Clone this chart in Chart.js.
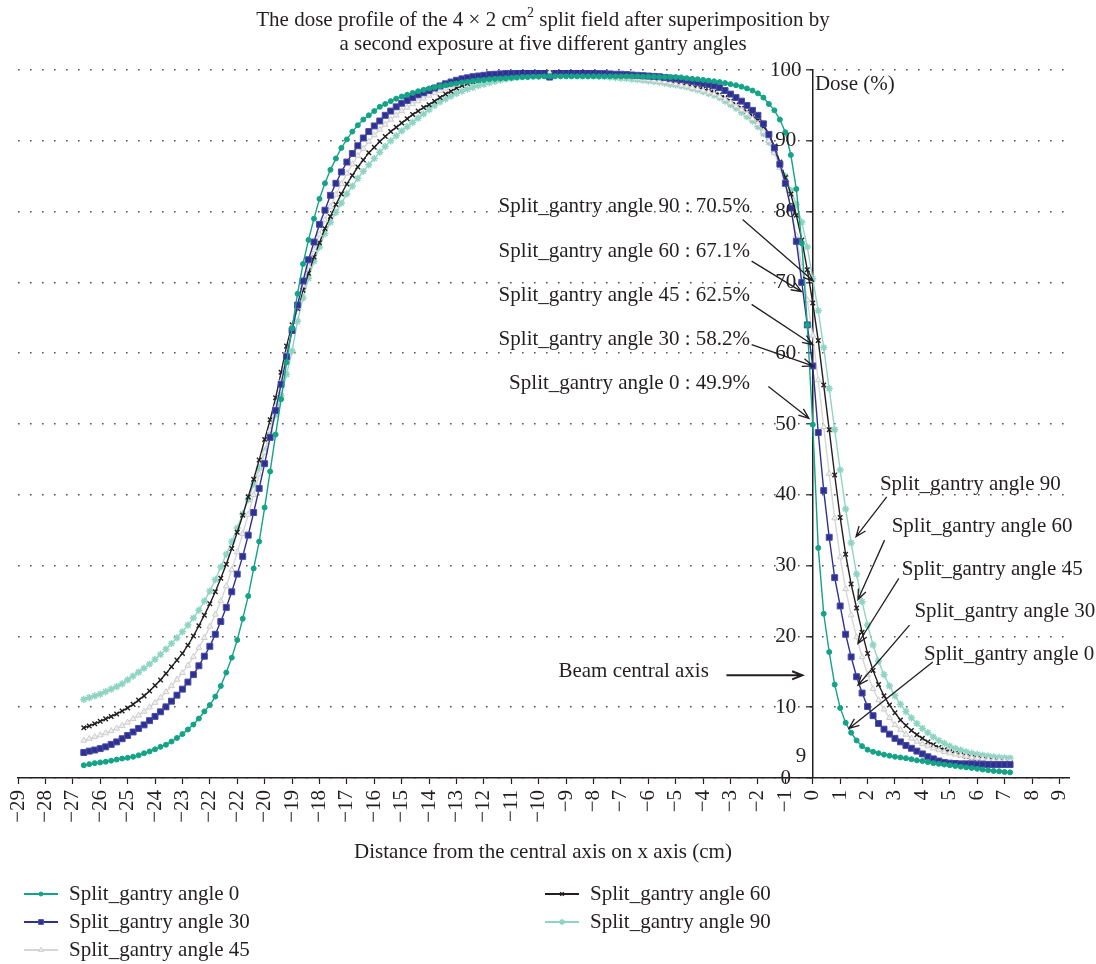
<!DOCTYPE html>
<html>
<head>
<meta charset="utf-8">
<script src="https://cdn.jsdelivr.net/npm/chart.js@4.4.1/dist/chart.umd.min.js"></script>
<style>
html, body { margin: 0; padding: 0; background: #fff; }
#wrap { position: relative; width: 1096px; height: 964px; }
</style>
</head>
<body>
<div id="wrap"><canvas id="doseChart"></canvas></div>
<script>
var serif = "'Liberation Serif', 'DejaVu Serif', serif";
var ink = '#231f20';

// distance from the central axis (cm), one sample every 0.2 cm
var distance = [
  -26.6,-26.4,-26.2,-26,-25.8,-25.6,-25.4,-25.2,-25,-24.8,
  -24.6,-24.4,-24.2,-24,-23.8,-23.6,-23.4,-23.2,-23,-22.8,
  -22.6,-22.4,-22.2,-22,-21.8,-21.6,-21.4,-21.2,-21,-20.8,
  -20.6,-20.4,-20.2,-20,-19.8,-19.6,-19.4,-19.2,-19,-18.8,
  -18.6,-18.4,-18.2,-18,-17.8,-17.6,-17.4,-17.2,-17,-16.8,
  -16.6,-16.4,-16.2,-16,-15.8,-15.6,-15.4,-15.2,-15,-14.8,
  -14.6,-14.4,-14.2,-14,-13.8,-13.6,-13.4,-13.2,-13,-12.8,
  -12.6,-12.4,-12.2,-12,-11.8,-11.6,-11.4,-11.2,-11,-10.8,
  -10.6,-10.4,-10.2,-10,-9.8,-9.6,-9.4,-9.2,-9,-8.8,
  -8.6,-8.4,-8.2,-8,-7.8,-7.6,-7.4,-7.2,-7,-6.8,
  -6.6,-6.4,-6.2,-6,-5.8,-5.6,-5.4,-5.2,-5,-4.8,
  -4.6,-4.4,-4.2,-4,-3.8,-3.6,-3.4,-3.2,-3,-2.8,
  -2.6,-2.4,-2.2,-2,-1.8,-1.6,-1.4,-1.2,-1,-0.8,
  -0.6,-0.4,-0.2,0,0.2,0.4,0.6,0.8,1,1.2,
  1.4,1.6,1.8,2,2.2,2.4,2.6,2.8,3,3.2,
  3.4,3.6,3.8,4,4.2,4.4,4.6,4.8,5,5.2,
  5.4,5.6,5.8,6,6.2,6.4,6.6,6.8,7,7.2
];

var dose0 = [
  1.8,1.95,2.1,2.2,2.3,2.45,2.6,2.75,2.85,3.0,
  3.2,3.5,3.75,4.05,4.4,4.7,5.15,5.65,6.2,6.85,
  7.55,8.4,9.4,10.3,11.5,13.0,14.9,17.0,19.5,22.5,
  25.7,29.6,33.4,38.2,43.3,48.5,53.5,58.7,63.5,68.4,
  72.6,76.0,79.0,81.8,84.0,85.9,87.5,89.0,90.2,91.3,
  92.2,93.0,93.6,94.2,94.8,95.2,95.6,95.95,96.25,96.5,
  96.75,97.0,97.2,97.4,97.55,97.7,97.85,98.0,98.1,98.25,
  98.35,98.45,98.55,98.6,98.7,98.75,98.8,98.85,98.9,98.95,
  99.0,99.0,99.05,99.05,99.1,99.1,99.1,99.1,99.1,99.1,
  99.1,99.1,99.1,99.1,99.1,99.1,99.1,99.1,99.1,99.1,
  99.1,99.1,99.05,99.05,99.05,99.0,99.0,99.0,99.0,98.95,
  98.85,98.75,98.7,98.6,98.5,98.4,98.3,98.15,98.0,97.85,
  97.65,97.4,97.1,96.7,96.1,95.2,94.3,93.0,91.2,88.0,
  83.2,75.5,64.0,49.9,32.5,23.2,17.8,13.2,9.9,7.8,
  6.4,5.3,4.5,4.0,3.7,3.5,3.3,3.15,3.0,2.9,
  2.8,2.65,2.5,2.4,2.25,2.1,2.0,1.9,1.8,1.7,
  1.6,1.5,1.4,1.3,1.2,1.1,1.0,0.95,0.85,0.8
];

var dose30 = [
  3.6,3.8,3.95,4.15,4.4,4.75,5.1,5.55,6.0,6.5,
  7.0,7.5,8.1,8.7,9.35,10.05,10.85,11.7,12.55,13.55,
  14.6,15.85,17.2,18.6,20.3,22.1,24.1,26.3,28.8,31.3,
  34.3,37.5,40.9,44.4,48.1,51.9,55.6,59.5,63.2,66.8,
  70.2,73.2,75.7,78.2,80.2,82.3,84.0,85.6,87.0,88.2,
  89.3,90.4,91.3,92.1,92.8,93.6,94.2,94.8,95.3,95.7,
  96.1,96.5,96.8,97.1,97.45,97.75,98.05,98.3,98.55,98.75,
  98.9,99.05,99.15,99.25,99.35,99.4,99.45,99.5,99.55,99.6,
  99.65,99.7,99.7,99.75,99.75,99.0,99.8,99.8,99.75,99.7,
  99.7,99.65,99.6,99.6,99.55,99.5,99.45,99.4,99.4,99.35,
  99.3,99.25,99.2,99.15,99.1,99.05,98.95,98.85,98.75,98.65,
  98.55,98.4,98.25,98.1,97.95,97.75,97.5,97.1,96.6,96.1,
  95.6,95.0,94.3,93.6,92.4,90.9,89.0,86.7,84.0,80.5,
  75.8,70.0,64.0,58.2,48.8,40.6,34.0,28.3,24.3,20.3,
  17.1,14.3,12.0,10.1,8.8,7.7,6.9,6.2,5.6,5.1,
  4.6,4.2,3.8,3.4,3.0,2.7,2.4,2.2,2.1,2.05,
  2.0,2.0,2.0,1.95,1.95,1.9,1.9,1.9,1.9,1.9
];

var dose45 = [
  5.3,5.55,5.8,6.05,6.35,6.65,7.0,7.4,7.85,8.35,
  8.85,9.4,10.0,10.65,11.35,12.15,13.0,13.9,14.85,15.9,
  17.1,18.4,19.8,21.4,23.1,25.0,27.1,29.4,31.9,34.5,
  37.2,40.0,42.9,46.0,49.1,52.4,56.0,59.8,63.6,66.6,
  69.6,72.3,74.6,76.8,78.8,80.7,82.4,83.9,85.4,86.7,
  87.9,88.9,89.9,90.8,91.6,92.3,93.0,93.6,94.2,94.7,
  95.2,95.6,96.0,96.4,96.75,97.1,97.4,97.7,97.95,98.2,
  98.4,98.6,98.75,98.9,99.0,99.1,99.2,99.3,99.35,99.4,
  99.45,99.5,99.55,99.6,99.6,99.6,99.6,99.55,99.5,99.45,
  99.4,99.35,99.3,99.25,99.2,99.15,99.1,99.05,99.0,98.95,
  98.9,98.8,98.7,98.6,98.5,98.4,98.3,98.15,98.0,97.85,
  97.7,97.5,97.3,97.1,96.85,96.6,96.25,95.85,95.4,94.9,
  94.4,93.8,93.1,92.4,91.3,90.0,88.3,86.2,83.8,80.6,
  76.6,72.2,67.5,62.5,56.2,49.6,43.0,36.7,31.2,26.7,
  23.0,19.9,17.1,14.6,12.6,11.0,9.7,8.5,7.5,6.8,
  6.15,5.6,5.15,4.8,4.5,4.2,3.95,3.7,3.5,3.35,
  3.2,3.05,2.9,2.8,2.7,2.6,2.5,2.45,2.4,2.35
];

var dose60 = [
  7.1,7.35,7.65,8.0,8.35,8.7,9.05,9.45,9.9,10.4,
  11.0,11.6,12.3,13.05,13.85,14.75,15.7,16.65,17.6,18.75,
  20.05,21.5,23.0,24.6,26.3,28.2,30.2,32.4,34.7,37.1,
  39.7,42.2,44.9,47.8,50.6,53.7,57.3,61.0,64.0,66.3,
  68.9,71.3,73.6,75.6,77.6,79.3,81.0,82.5,83.9,85.1,
  86.3,87.3,88.3,89.1,89.9,90.6,91.3,91.9,92.5,93.1,
  93.7,94.2,94.7,95.1,95.6,96.1,96.6,97.0,97.45,97.8,
  98.1,98.35,98.55,98.75,98.9,99.05,99.15,99.25,99.35,99.45,
  99.5,99.55,99.6,99.65,99.7,99.75,99.75,99.75,99.7,99.65,
  99.6,99.5,99.45,99.4,99.35,99.3,99.25,99.2,99.1,99.05,
  99.0,98.9,98.8,98.7,98.6,98.5,98.4,98.25,98.1,98.0,
  97.85,97.7,97.5,97.3,97.1,96.85,96.5,96.1,95.6,95.1,
  94.6,94.1,93.5,92.9,92.0,91.0,89.2,87.0,84.8,82.5,
  79.5,76.0,71.8,67.1,61.8,55.5,49.2,42.8,36.8,31.6,
  27.4,24.0,20.6,17.6,15.2,13.2,11.6,10.3,9.2,8.2,
  7.4,6.7,6.1,5.6,5.1,4.7,4.3,4.0,3.7,3.45,
  3.25,3.05,2.9,2.75,2.6,2.5,2.4,2.3,2.2,2.15
];

var dose90 = [
  11.1,11.35,11.6,11.85,12.2,12.55,12.9,13.3,13.85,14.4,
  14.95,15.5,16.1,16.75,17.45,18.2,19.0,19.8,20.65,21.6,
  22.6,23.7,25.0,26.4,28.0,29.8,31.6,33.4,35.3,37.3,
  39.3,41.5,43.8,46.2,48.7,51.3,54.0,57.0,60.3,64.5,
  67.8,70.6,73.0,75.0,76.9,78.5,79.9,81.2,82.5,83.6,
  84.7,85.7,86.6,87.5,88.4,89.2,90.0,90.7,91.4,92.0,
  92.6,93.2,93.8,94.4,95.0,95.5,95.9,96.3,96.7,97.0,
  97.3,97.55,97.8,98.0,98.2,98.4,98.55,98.7,98.85,98.95,
  99.05,99.15,99.2,99.25,99.3,99.3,99.3,99.3,99.3,99.25,
  99.25,99.2,99.2,99.15,99.1,99.05,99.0,98.9,98.85,98.8,
  98.7,98.65,98.55,98.45,98.4,98.3,98.15,98.0,97.9,97.75,
  97.6,97.4,97.2,96.95,96.7,96.45,96.1,95.6,95.1,94.6,
  94.0,93.4,92.8,92.0,91.0,89.8,88.4,86.8,85.0,83.0,
  81.0,78.5,75.0,70.5,66.0,60.8,55.0,49.2,43.5,38.0,
  33.2,28.8,24.9,21.6,18.8,16.5,14.6,13.0,11.6,10.4,
  9.4,8.5,7.7,7.0,6.4,5.8,5.3,4.9,4.5,4.2,
  3.95,3.7,3.5,3.35,3.2,3.1,3.0,2.9,2.85,2.8
];

var seriesLabels = ['Split_gantry angle 0', 'Split_gantry angle 30', 'Split_gantry angle 45',
                    'Split_gantry angle 60', 'Split_gantry angle 90'];

var xTickValues = [-29,-28,-27,-26,-25,-24,-23,-22,-21,-20,-19,-18,-17,-16,-15,-14,-13,-12,-11,-10,
                   -9,-8,-7,-6,-5,-4,-3,-2,-1,0,1,2,3,4,5,6,7,8,9];
// the printed axis repeats "-22" where -21 should be; kept as in the figure
var xTickLabels = ['−29','−28','−27','−26','−25','−24','−23','−22','−22','−20','−19','−18','−17','−16',
                   '−15','−14','−13','−12','−11','−10','−9','−8','−7','−6','−5','−4','−3','−2','−1',
                   '0','1','2','3','4','5','6','7','8','9'];
var yTickValues = [0,10,20,30,40,50,60,70,80,90,100];

var titleLine1 = ['The dose profile of the 4 × 2 cm', '2', ' split field after superimposition by'];
var titleLine2 = 'a second exposure at five different gantry angles';
var xTitle = 'Distance from the central axis on x axis (cm)';

// callouts, anchored in data units
var leftNotes = [
  {text: 'Split_gantry angle 90 : 70.5%', at: [-2.29, 80.7], from: [-2.56, 78.9], to: [0.02, 70.2]},
  {text: 'Split_gantry angle 60 : 67.1%', at: [-2.29, 74.3], from: [-2.23, 73.0], to: [-0.41, 68.7]},
  {text: 'Split_gantry angle 45 : 62.5%', at: [-2.29, 68.2], from: [-2.23, 66.9], to: [0.0, 61.2]},
  {text: 'Split_gantry angle 30 : 58.2%', at: [-2.29, 61.9], from: [-2.23, 61.2], to: [0.0, 58.2]},
  {text: 'Split_gantry angle 0 : 49.9%',  at: [-2.29, 55.75], from: [-1.62, 55.3], to: [-0.14, 50.8]}
];
var rightNotes = [
  {text: 'Split_gantry angle 90', at: [2.45, 41.4], from: [2.70, 39.7], to: [1.58, 34.1]},
  {text: 'Split_gantry angle 60', at: [2.88, 35.5], from: [2.62, 33.6], to: [1.65, 25.2]},
  {text: 'Split_gantry angle 45', at: [3.25, 29.5], from: [3.14, 28.2], to: [1.65, 19.0]},
  {text: 'Split_gantry angle 30', at: [3.71, 23.5], from: [3.53, 21.6], to: [1.65, 13.1]},
  {text: 'Split_gantry angle 0',  at: [4.06, 17.4], from: [4.38, 16.4], to: [1.32, 7.0]},
  {text: 'Beam central axis',     at: [-9.28, 15.0], from: [-3.15, 14.5], to: [-0.38, 14.5], heavy: true}
];

function toPoints(ys) {
  return distance.map(function (x, i) { return {x: x, y: ys[i]}; });
}

function arrow(ctx, x1, y1, x2, y2, w) {
  var a = Math.atan2(y2 - y1, x2 - x1), h = 11;
  ctx.lineWidth = w;
  ctx.beginPath();
  ctx.moveTo(x1, y1);
  ctx.lineTo(x2, y2);
  ctx.moveTo(x2 - h * Math.cos(a - 0.38), y2 - h * Math.sin(a - 0.38));
  ctx.lineTo(x2, y2);
  ctx.lineTo(x2 - h * Math.cos(a + 0.38), y2 - h * Math.sin(a + 0.38));
  ctx.stroke();
}

var notesPlugin = {
  id: 'notes',
  afterDraw: function (chart) {
    var ctx = chart.ctx;
    var sx = chart.scales.x, sy = chart.scales.y;
    var px = function (v) { return sx.getPixelForValue(v); };
    var py = function (v) { return sy.getPixelForValue(v); };
    var cx = chart.width / 2 - 5;

    ctx.save();
    ctx.fillStyle = ink;
    ctx.strokeStyle = ink;
    ctx.textBaseline = 'middle';

    // y tick labels, centred left of the axis
    ctx.font = '21px ' + serif;
    ctx.textAlign = 'center';
    yTickValues.forEach(function (v) { ctx.fillText(String(v), px(0) - 27, py(v)); });
    ctx.fillText('9', px(-0.43), py(2.97));

    ctx.textAlign = 'left';
    ctx.fillText('Dose (%)', px(0.08), py(97.9));

    // title with superscript
    ctx.font = '21px ' + serif;
    var w1 = ctx.measureText(titleLine1[0]).width;
    var w3 = ctx.measureText(titleLine1[2]).width;
    ctx.font = '14px ' + serif;
    var w2 = ctx.measureText(titleLine1[1]).width;
    var left = cx - (w1 + w2 + w3) / 2;
    ctx.font = '21px ' + serif;
    ctx.fillText(titleLine1[0], left, 20);
    ctx.fillText(titleLine1[2], left + w1 + w2, 20);
    ctx.font = '14px ' + serif;
    ctx.fillText(titleLine1[1], left + w1, 13);
    ctx.font = '21px ' + serif;
    ctx.textAlign = 'center';
    ctx.fillText(titleLine2, cx, 44);

    ctx.font = '21px ' + serif;
    ctx.fillText(xTitle, cx, 852);

    // callouts
    ctx.textAlign = 'right';
    leftNotes.forEach(function (n) {
      ctx.fillText(n.text, px(n.at[0]), py(n.at[1]));
      arrow(ctx, px(n.from[0]), py(n.from[1]), px(n.to[0]), py(n.to[1]), 1.3);
    });
    ctx.textAlign = 'left';
    rightNotes.forEach(function (n) {
      ctx.fillText(n.text, px(n.at[0]), py(n.at[1]));
      arrow(ctx, px(n.from[0]), py(n.from[1]), px(n.to[0]), py(n.to[1]), n.heavy ? 2 : 1.3);
    });

    // legend: two columns, filled top to bottom
    var slots = [[24, 894], [24, 922], [24, 950], [545, 894], [545, 922]];
    chart.data.datasets.forEach(function (ds, i) {
      var s = slots[i];
      ctx.strokeStyle = ds.borderColor;
      ctx.lineWidth = 2;
      ctx.beginPath();
      ctx.moveTo(s[0], s[1]);
      ctx.lineTo(s[0] + 34, s[1]);
      ctx.stroke();
      ctx.fillStyle = ds.pointBackgroundColor;
      ctx.strokeStyle = ds.pointBorderColor;
      ctx.lineWidth = ds.pointBorderWidth;
      Chart.helpers.drawPoint(ctx, {pointStyle: ds.pointStyle, radius: ds.pointRadius * 0.8,
        rotation: 0, borderWidth: ds.pointBorderWidth}, s[0] + 17, s[1]);
      ctx.fillStyle = ink;
      ctx.font = '21px ' + serif;
      ctx.fillText(ds.label, s[0] + 45, s[1]);
    });
    ctx.restore();
  }
};

var doseChart = new Chart(document.getElementById('doseChart'), {
  type: 'line',
  data: {
    datasets: [{
      label: seriesLabels[0],
      data: toPoints(dose0),
      borderColor: '#13a386',
      borderWidth: 1.4,
      pointStyle: 'circle',
      pointRadius: 2.5,
      pointBackgroundColor: '#13a386',
      pointBorderColor: '#13a386',
      pointBorderWidth: 1
    }, {
      label: seriesLabels[1],
      data: toPoints(dose30),
      borderColor: '#2e3192',
      borderWidth: 1.4,
      pointStyle: 'rect',
      pointRadius: 4.2,
      pointBackgroundColor: '#2e3192',
      pointBorderColor: '#4a4da6',
      pointBorderWidth: 1
    }, {
      label: seriesLabels[2],
      data: toPoints(dose45),
      borderColor: '#d6d6d6',
      borderWidth: 1.4,
      pointStyle: 'triangle',
      pointRadius: 3.4,
      pointBackgroundColor: '#f0f0f0',
      pointBorderColor: '#cdcdcd',
      pointBorderWidth: 1
    }, {
      label: seriesLabels[3],
      data: toPoints(dose60),
      borderColor: '#231f20',
      borderWidth: 1.4,
      pointStyle: 'crossRot',
      pointRadius: 3.2,
      pointBackgroundColor: '#231f20',
      pointBorderColor: '#231f20',
      pointBorderWidth: 1.4
    }, {
      label: seriesLabels[4],
      data: toPoints(dose90),
      borderColor: '#8ed4c3',
      borderWidth: 1.4,
      pointStyle: 'star',
      pointRadius: 3.6,
      pointBackgroundColor: '#8ed4c3',
      pointBorderColor: '#8ed4c3',
      pointBorderWidth: 1.5
    }]
  },
  options: {
    responsive: true,
    maintainAspectRatio: false,
    animation: false,
    layout: {padding: {top: 70, left: 18, right: 27, bottom: 126}},
    elements: {line: {tension: 0}},
    plugins: {
      legend: {display: false},
      title: {display: false},
      tooltip: {enabled: false}
    },
    scales: {
      x: {
        type: 'linear',
        min: -29,
        max: 9.35,
        afterBuildTicks: function (axis) {
          axis.ticks = xTickValues.map(function (v) { return {value: v}; });
        },
        afterFit: function (axis) { axis.height = 60; },
        ticks: {
          autoSkip: false,
          minRotation: 90,
          maxRotation: 90,
          padding: 6,
          color: ink,
          font: {family: serif, size: 21},
          callback: function (v, i) { return xTickLabels[i]; }
        },
        grid: {drawOnChartArea: false, drawTicks: true, tickLength: 6, tickColor: ink, tickWidth: 1.2},
        border: {display: true, color: ink, width: 1.5}
      },
      y: {
        type: 'linear',
        min: 0,
        max: 100,
        position: {x: 0},
        afterBuildTicks: function (axis) {
          axis.ticks = yTickValues.map(function (v) { return {value: v}; });
        },
        ticks: {display: false},
        grid: {color: '#555', lineWidth: 1.6, drawTicks: true, tickLength: 6, tickColor: ink, tickWidth: 1.2},
        border: {display: true, color: ink, width: 1.5, dash: [1.6, 10.4]}
      }
    }
  },
  plugins: [notesPlugin]
});
</script>
</body>
</html>
